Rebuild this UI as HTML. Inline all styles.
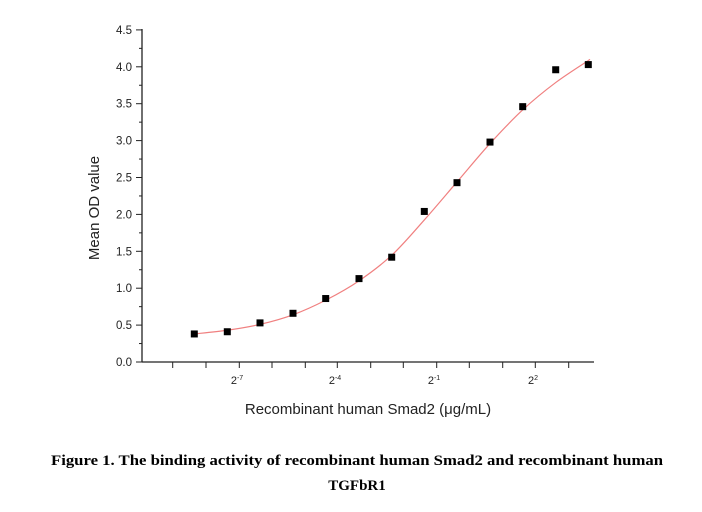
<!DOCTYPE html>
<html><head><meta charset="utf-8"><style>
html,body{margin:0;padding:0;background:#fff;width:702px;height:512px;overflow:hidden}
</style></head><body>
<svg id="s" width="702" height="512" xmlns="http://www.w3.org/2000/svg" font-family="Liberation Sans, Arial, sans-serif">
<g stroke="#222" stroke-width="1.3" fill="none">
<line x1="142" y1="29" x2="142" y2="362"/>
<line x1="142" y1="362" x2="594" y2="362"/>
</g>
<g id="yt" stroke="#222" stroke-width="1"></g>
<g id="xt" stroke="#222" stroke-width="1"></g>
<g id="yl" font-size="11.5" fill="#222" text-anchor="end"></g>
<g font-size="11" fill="#222" text-anchor="middle">
<text x="237" y="384">2<tspan dy="-4" font-size="7">-7</tspan></text>
<text x="335" y="384">2<tspan dy="-4" font-size="7">-4</tspan></text>
<text x="434" y="384">2<tspan dy="-4" font-size="7">-1</tspan></text>
<text x="533" y="384">2<tspan dy="-4" font-size="7">2</tspan></text>
</g>
<text x="368" y="414" font-size="15" fill="#222" text-anchor="middle">Recombinant human Smad2 (μg/mL)</text>
<text transform="translate(99,208) rotate(-90)" font-size="15" fill="#222" text-anchor="middle">Mean OD value</text>
<path id="curve" fill="none" stroke="#f08080" stroke-width="1.2"/>
<g id="pts" fill="#000"></g>
<g font-family="Liberation Serif, serif" font-weight="bold" font-size="15" fill="#000" text-anchor="middle">
<text x="357" y="465" textLength="612" lengthAdjust="spacingAndGlyphs">Figure 1. The binding activity of recombinant human Smad2 and recombinant human</text>
<text x="357" y="490">TGFbR1</text>
</g>
</svg>
<script>
var ns="http://www.w3.org/2000/svg";
function Y(v){return 362-v*73.8;}
function el(p,t,a){var e=document.createElementNS(ns,t);for(var k in a)e.setAttribute(k,a[k]);document.getElementById(p).appendChild(e);return e;}
for(var i=0;i<=18;i++){var v=i*0.25,y=Y(v);el("yt","line",{x1:142,x2:i%2?139:136,y1:y,y2:y});
if(i%2==0){var t=el("yl","text",{x:132,y:y+4});t.textContent=v.toFixed(1);}}
var xs=[172.7,206,239.3,272,305.3,337.3,370.7,403.3,436.7,469.3,502.7,535.3,568.7];
xs.forEach(function(x){el("xt","line",{x1:x,x2:x,y1:362,y2:368});});
var P=[[194.3,.38],[227.3,.41],[260,.53],[293,.66],[325.7,.86],[359,1.13],[391.7,1.42],[424.3,2.04],[457,2.43],[490,2.98],[522.7,3.46],[555.7,3.96],[588.3,4.03]];
P.forEach(function(p){el("pts","rect",{x:p[0]-3.5,y:Y(p[1])-3.5,width:7,height:7});});
var C=[[194,0.38],[227,0.43],[260,0.51],[293,0.64],[326,0.84],[359,1.1],[392,1.45],[424,1.92],[457,2.44],[490,2.96],[523,3.42],[556,3.79],[590,4.1]].map(function(p){return [p[0],Y(p[1])];});
var d="M"+C[0][0]+","+C[0][1];
for(var i=0;i<C.length-1;i++){var p0=C[Math.max(0,i-1)],p1=C[i],p2=C[i+1],p3=C[Math.min(C.length-1,i+2)];
d+=" C"+(p1[0]+(p2[0]-p0[0])/6)+","+(p1[1]+(p2[1]-p0[1])/6)+" "+(p2[0]-(p3[0]-p1[0])/6)+","+(p2[1]-(p3[1]-p1[1])/6)+" "+p2[0]+","+p2[1];}
document.getElementById("curve").setAttribute("d",d);
</script>
</body></html>
